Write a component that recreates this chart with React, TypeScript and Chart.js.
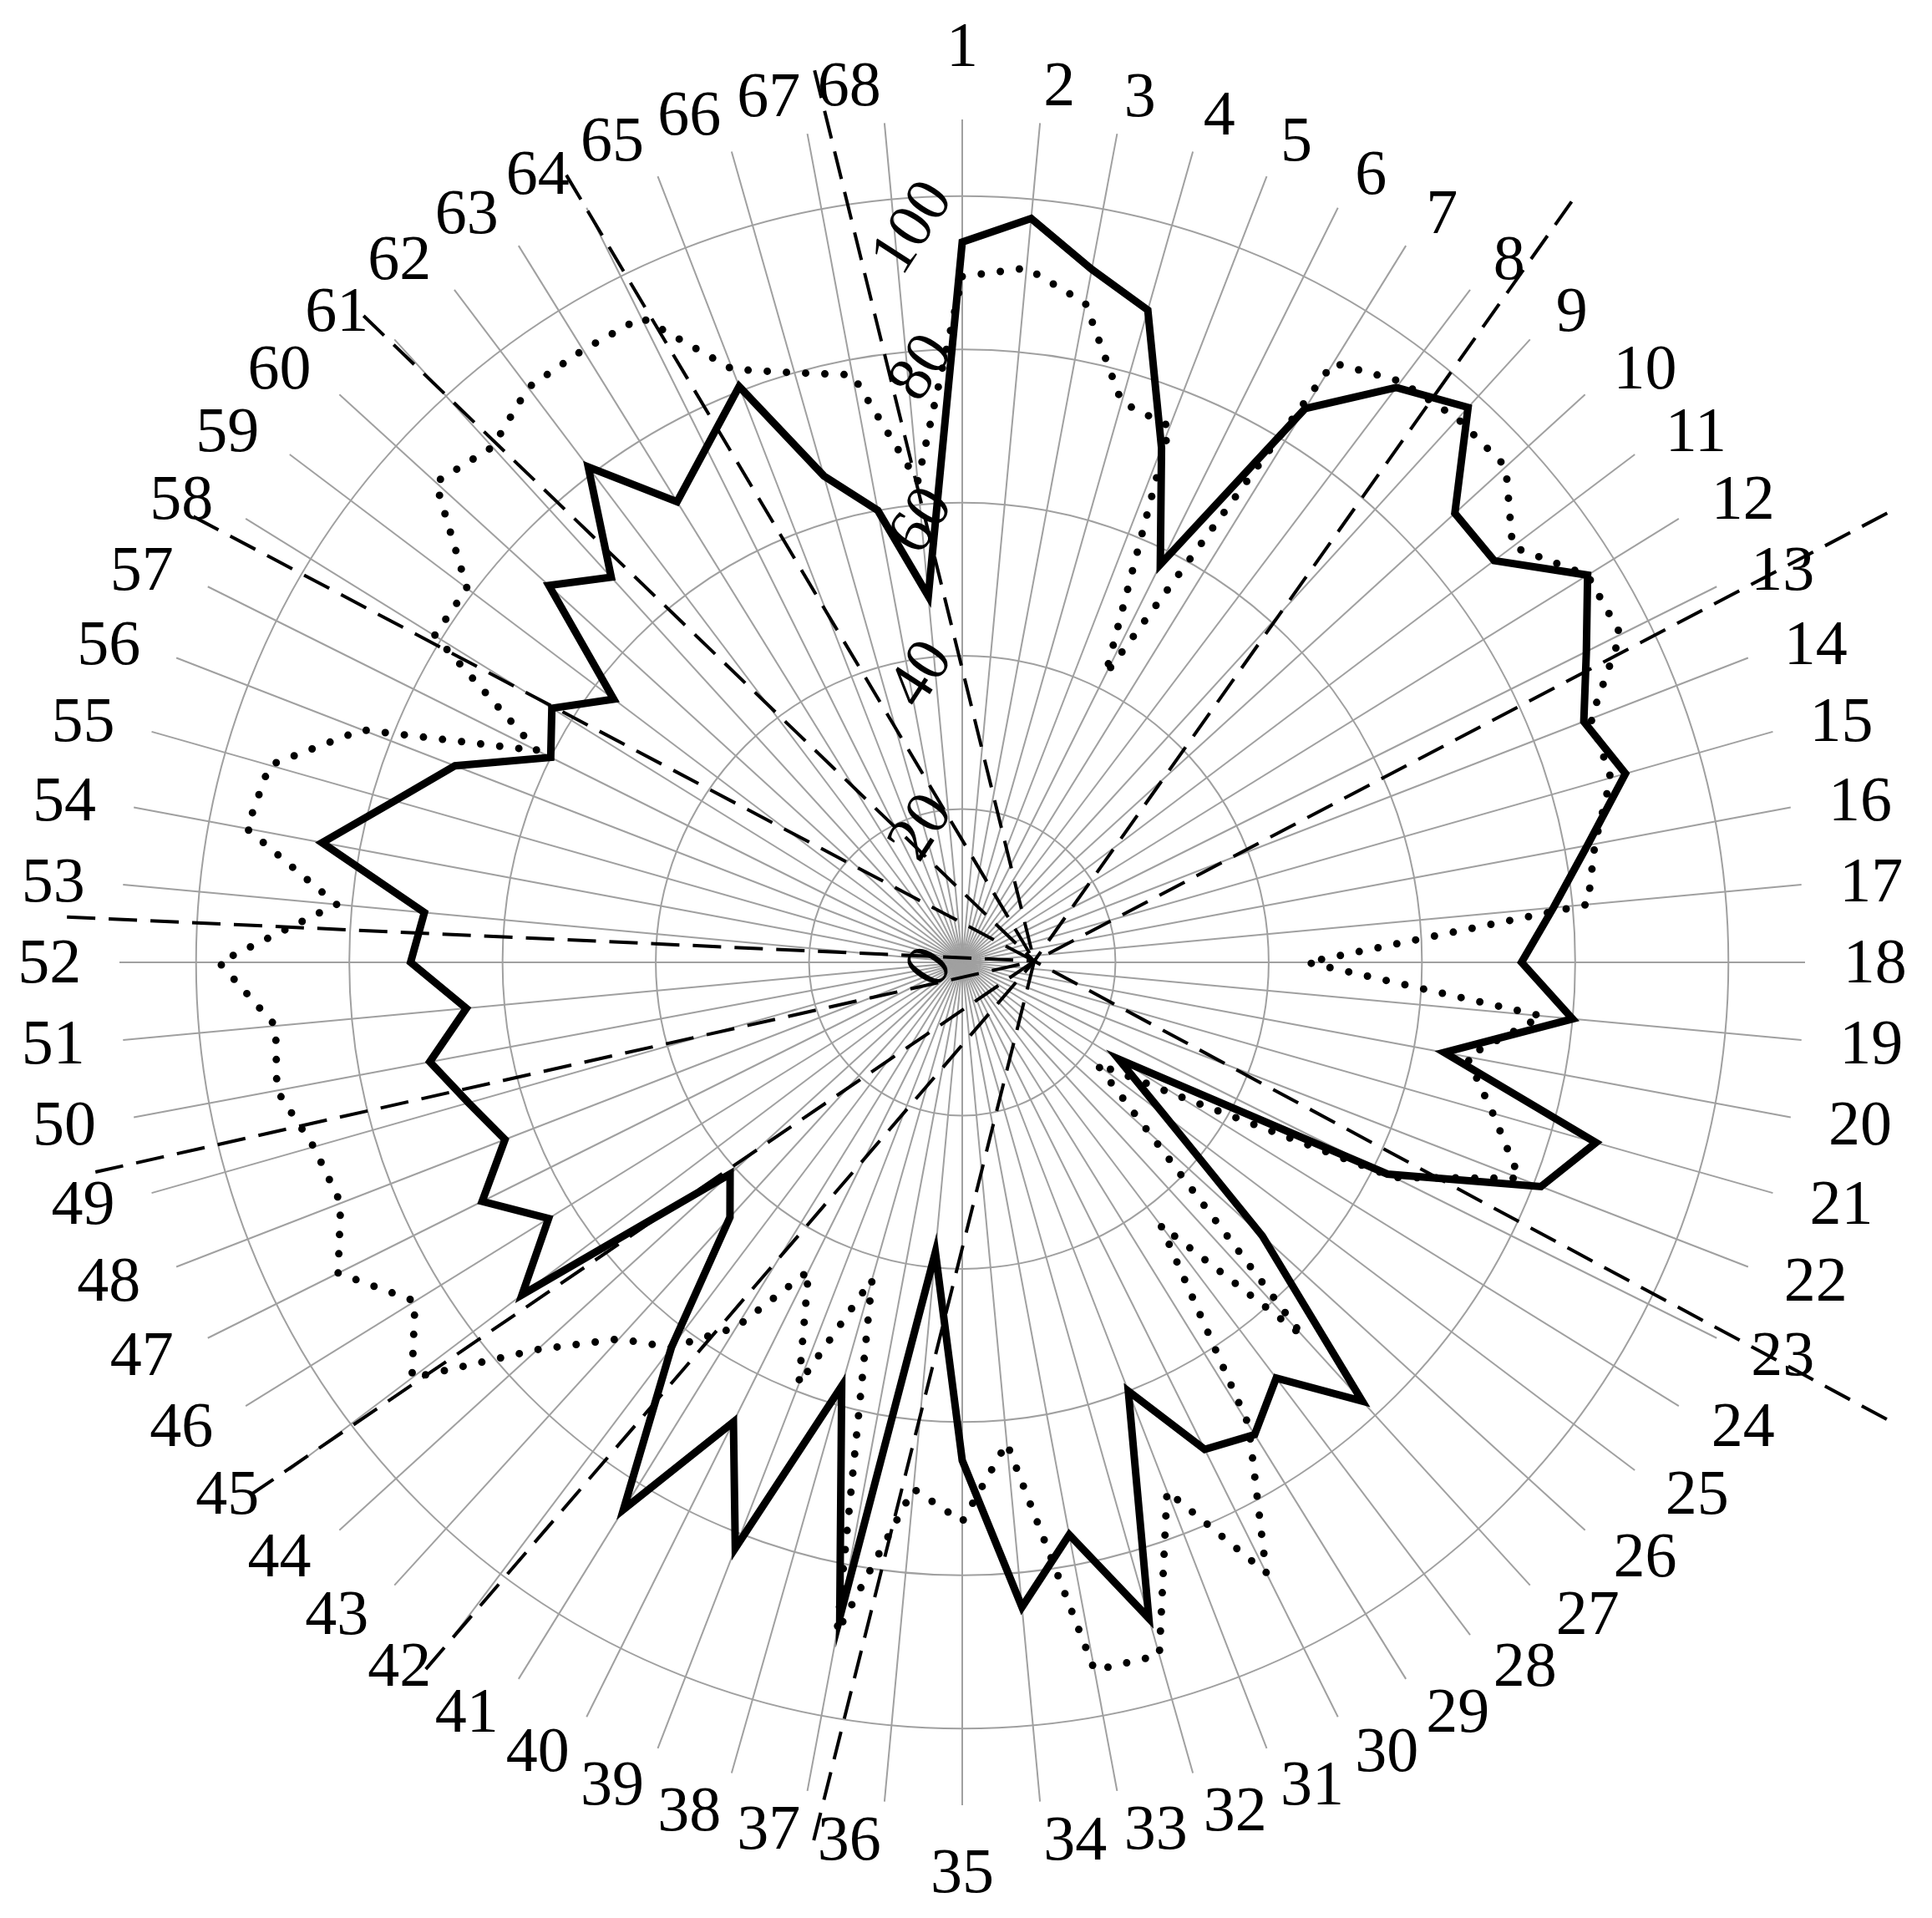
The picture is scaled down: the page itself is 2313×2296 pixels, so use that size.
import React, { useEffect, useRef } from "react";
import { Chart, registerables } from "chart.js";

Chart.register(...registerables);

const categories: string[] = Array.from({ length: 68 }, (_, i) => String(i + 1));

const solidSeries: number[] = [
  94, 97.5, 92, 88.5, 72, 58, 85, 94, 98, 87,
  87, 96, 91, 87, 90, 83, 77.5, 73, 80, 64,
  86, 81, 62, 24, 33, 53, 77.5, 68, 72.5, 71,
  60, 89, 76, 84.5, 65, 38, 87, 57.5, 82, 67,
  84, 63, 45, 41, 72, 63.5, 70, 64, 67, 70.7,
  65, 72, 70.5, 85, 77, 71, 60, 63, 57, 73,
  68, 81, 70.7, 75, 80.6, 66, 60, 48,
];

const dottedSeries: number[] = [
  89.5, 91, 87.5, 76, 75, 42, 92, 95, 96, 96,
  90, 96, 96, 88, 88, 84, 82, 45, 76, 67,
  72, 78, 63, 33, 22, 33, 66, 43, 71, 89,
  74, 94, 94, 63, 73, 69, 89, 43, 59, 45,
  56, 63, 66.5, 75, 90, 84, 91, 87, 88, 91,
  90, 97, 82, 95, 94, 84, 62, 81, 81, 93,
  91, 94, 94, 94, 83, 80, 78, 63,
];

const tickValues: number[] = [0, 20, 40, 60, 80, 100];
const tickLabels: string[] = ["0", "20", "40", "60", "80", "100"];

// dashed reference lines: outer end (angle in degrees clockwise from top, radial value), all meeting at a hub
const dashAngles: number[] = [350.6, 333.3, 317.2, 300.1, 272.9, 256.4, 233.2, 217.2, 189.6, 116.3, 64.1, 38.7];
const dashValues: number[] = [118, 115, 115, 116, 117, 116.4, 116.1, 115.8, 116.2, 134.6, 134.2, 127.2];
const hubAngle = 89;
const hubValue = 9.4;

// radial position (in axis units) of the category label anchors
const labelRadiusValue = 115;

const FONT = '"Liberation Serif", "Times New Roman", serif';
const FONT_SIZE = 76;

function polar(scale: any, deg: number, value: number): [number, number] {
  const d = scale.getDistanceFromCenterForValue(value);
  const a = (deg * Math.PI) / 180;
  return [scale.xCenter + d * Math.sin(a), scale.yCenter - d * Math.cos(a)];
}

const labelPlugin = {
  id: "categoryAndValueLabels",
  beforeDatasetsDraw(chart: any) {
    const s = chart.scales.r;
    const ctx = chart.ctx;
    ctx.save();
    ctx.font = `${FONT_SIZE}px ${FONT}`;
    ctx.fillStyle = "#000";
    const n = categories.length;
    categories.forEach((lab, i) => {
      const deg = (360 / n) * i;
      const [x, y] = polar(s, deg, labelRadiusValue);
      const a = Math.round(deg * 1000) / 1000;
      if (a === 0 || a === 180) {
        ctx.textAlign = "center";
        ctx.textBaseline = a === 0 ? "bottom" : "top";
        ctx.fillText(lab, x, y);
      } else {
        ctx.textAlign = a < 180 ? "left" : "right";
        ctx.textBaseline = "middle";
        ctx.fillText(lab, x, y + 4);
      }
    });
    // rotated value labels
    ctx.textAlign = "right";
    ctx.textBaseline = "middle";
    tickValues.forEach((v, i) => {
      const d = s.getDistanceFromCenterForValue(v);
      ctx.save();
      ctx.translate(s.xCenter - 27, s.yCenter - d - 9);
      ctx.rotate((-57 * Math.PI) / 180);
      ctx.fillText(tickLabels[i], 0, 0);
      ctx.restore();
    });
    ctx.restore();
  },
};

const dashPlugin = {
  id: "dashLines",
  afterDatasetsDraw(chart: any) {
    const s = chart.scales.r;
    const ctx = chart.ctx;
    const [hx, hy] = polar(s, hubAngle, hubValue);
    ctx.save();
    ctx.setLineDash([34, 16]);
    ctx.lineWidth = 4;
    ctx.strokeStyle = "#000";
    dashAngles.forEach((ang, i) => {
      const [x, y] = polar(s, ang, dashValues[i]);
      ctx.beginPath();
      ctx.moveTo(x, y);
      ctx.lineTo(hx, hy);
      ctx.stroke();
    });
    ctx.restore();
  },
};

export default function App() {
  const ref = useRef<HTMLCanvasElement | null>(null);
  useEffect(() => {
    if (!ref.current) return;
    const chart = new Chart(ref.current, {
      type: "radar",
      data: {
        labels: categories,
        datasets: [
          {
            label: "solid",
            data: solidSeries,
            borderColor: "#000",
            borderWidth: 9,
            borderJoinStyle: "miter",
            pointRadius: 0,
            fill: false,
            tension: 0,
          },
          {
            label: "dotted",
            data: dottedSeries,
            borderColor: "#000",
            borderWidth: 9,
            borderDash: [0, 23],
            borderCapStyle: "round",
            pointRadius: 0,
            fill: false,
            tension: 0,
          },
        ],
      },
      options: {
        responsive: false,
        animation: false,
        devicePixelRatio: 1,
        layout: { padding: 135 },
        plugins: { legend: { display: false }, tooltip: { enabled: false } },
        scales: {
          r: {
            min: 0,
            max: 110,
            ticks: { stepSize: 20, display: false },
            grid: {
              circular: true,
              color: (c: any) => (c.tick && c.tick.value > 100 ? "rgba(0,0,0,0)" : "#a0a0a0"),
              lineWidth: 2,
            },
            angleLines: { color: "#a0a0a0", lineWidth: 2 },
            pointLabels: { display: false },
          },
        },
      },
      plugins: [labelPlugin, dashPlugin],
    });
    return () => chart.destroy();
  }, []);
  return (
    <div style={{ width: 2288, height: 2288 }}>
      <canvas ref={ref} width={2288} height={2288} style={{ display: "block" }} />
    </div>
  );
}
